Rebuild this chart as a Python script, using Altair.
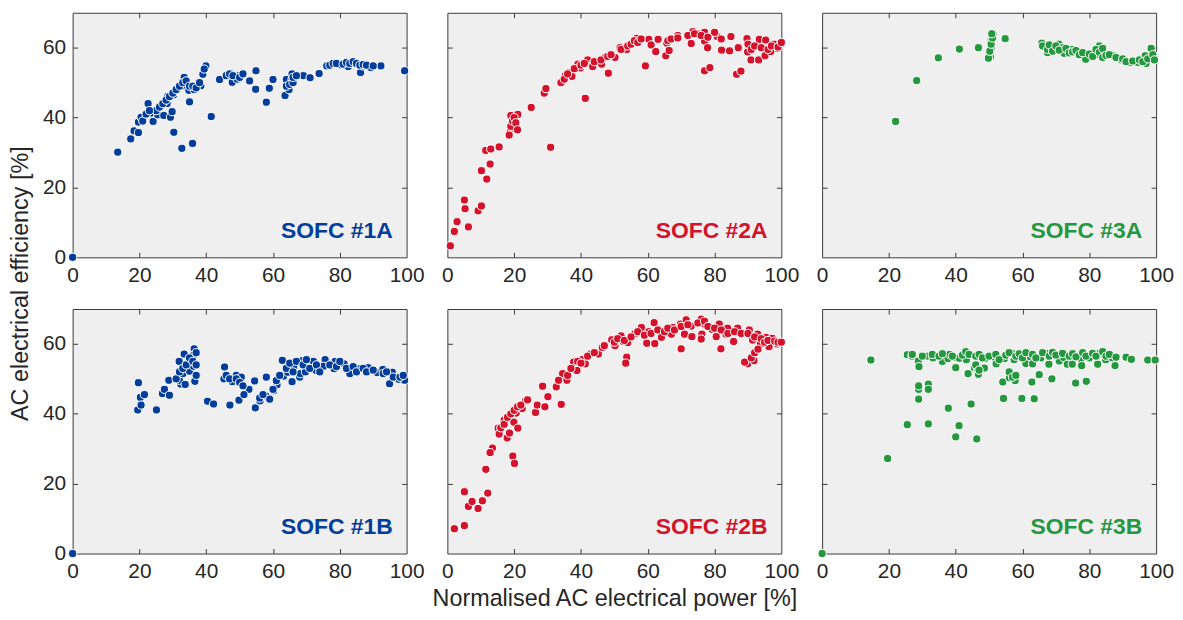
import altair as alt
import pandas as pd

# ---------------- data ----------------
x_1A = [0, 13.5, 17.4, 18.4, 19.7, 19.7, 20.5, 22.6, 24.1, 23.5, 25.5, 27.3, 28.5, 28.3, 26.5, 29.3, 29.8,
        30.3, 30.2, 30.7, 32.7, 33.4, 32.9, 34.8, 35.0, 35.9, 36.4, 38.4, 39.0, 39.9, 39.4, 41.5, 44.0,
        47.3, 47.8, 49.8, 49.3, 53.0, 54.9, 54.8, 58.0, 58.9, 60.0, 63.6, 64.0, 64.8, 65.7, 65.7, 69.1,
        71.1, 73.8, 76.1, 77.7, 80.3, 82.5, 84.0, 86.2, 86.9, 89.3, 92.3, 99.4,
        25, 26, 27, 28, 29, 30, 31, 32, 33, 34, 35, 36, 37, 38, 21, 22, 23,
        46, 47, 48, 50, 51, 64, 65, 66, 66, 67,
        77, 78, 79, 81, 82, 83, 84, 85, 86, 87, 88, 90]
y_1A = [0, 30.1, 33.9, 36.2, 35.7, 38.7, 40.1, 44.0, 38.9, 41.3, 40.8, 40.6, 46.1, 44.0, 43.4, 40.1, 41.7,
        35.8, 46.5, 47.7, 31.2, 51.5, 49.1, 47.8, 44.5, 32.6, 48.0, 49.1, 52.4, 54.8, 53.9, 40.3, 50.9,
        52.6, 50.1, 52.0, 51.0, 50.5, 53.4, 48.1, 44.4, 48.4, 50.9, 46.3, 50.9, 48.0, 50.9, 52.5, 52.0,
        51.4, 52.6, 54.8, 55.3, 55.1, 54.6, 55.5, 52.9, 54.8, 54.3, 54.8, 53.4,
        42, 43, 44, 45, 46, 47, 48, 49, 50, 50.5, 49, 49, 48.5, 50, 39, 41, 42,
        52, 52.5, 52, 51.5, 52.5, 49, 49.5, 50, 51.5, 52,
        55, 55.5, 55.5, 55.3, 55.8, 55.5, 56, 55.5, 55, 55.2, 55, 54.8]

x_2A = [0.9, 2.1, 2.9, 6.3, 5.1, 5.3, 9.2, 10.2, 10.2, 11.8, 12.8, 11.5, 13.0, 15.5, 19.0, 18.8, 19.4,
        21.1, 20.0, 25.1, 29.0, 29.5, 30.9, 34.8, 35.3, 36.5, 37.3, 39.1, 39.8, 41.3, 42.0, 43.8, 43.5,
        46.2, 47.2, 48.2, 50.2, 51.7, 53.7, 55.7, 56.7, 59.3, 60.3, 61.0, 62.4, 63.1, 65.4, 65.7, 66.4,
        68.1, 69.0, 73.0, 73.5, 75.2, 77.0, 77.0, 78.6, 77.0, 77.9, 80.8, 80.0, 82.1, 84.5, 84.9, 86.6,
        87.9, 87.1, 89.7, 89.9, 90.9, 93.4, 93.2, 95.1, 95.3, 97.8, 98.8, 96.8, 99.8,
        18.5, 19, 19.5, 20, 20.5, 21, 34, 35, 36, 38, 40, 41, 44, 46, 48, 49, 52, 54, 55, 56, 57, 58,
        66, 67, 69, 72, 74, 76, 78, 82, 90, 91, 92, 94, 96, 97, 99, 100]
y_2A = [3.3, 7.4, 10.2, 8.7, 16.4, 13.9, 13.3, 14.7, 24.8, 22.4, 26.7, 30.6, 31.0, 31.6, 40.6, 36.0, 38.7,
        40.9, 37.0, 42.9, 47.0, 48.3, 31.5, 50.7, 52.0, 52.9, 51.8, 55.3, 54.2, 45.5, 56.5, 55.8, 54.6,
        55.3, 57.2, 52.7, 57.2, 60.0, 59.5, 61.9, 62.7, 54.8, 62.4, 60.8, 58.9, 62.4, 57.7, 61.3, 59.2,
        62.6, 63.5, 61.2, 64.6, 63.9, 61.9, 53.4, 54.3, 64.4, 60.0, 63.2, 64.4, 59.3, 59.1, 63.2, 52.4,
        53.3, 60.0, 62.6, 58.8, 56.5, 62.4, 56.5, 57.7, 62.2, 61.0, 59.8, 58.9, 61.0,
        35, 37.5, 39, 40, 38.5, 36.5, 50, 51, 52.5, 54, 55, 55.5, 56, 56.5, 57.5, 58, 59.5, 60.5, 61, 62, 61.5, 62.5,
        62, 62.5, 62.8, 63.5, 64, 63.5, 63, 62.5, 61, 59.5, 60.5, 60, 59.5, 60.5, 60.2, 61.5]

x_3A = [22.0, 28.3, 34.8, 41.1, 46.8, 50.4, 50.6, 50.6, 51.2, 50.0, 54.8, 65.8, 67.0, 67.5, 70.9, 71.9,
        72.4, 74.9, 76.7, 78.1, 78.9, 82.6, 83.0, 87.2, 89.6, 92.3, 94.5, 96.7, 97.0, 98.5, 98.9,
        49.8, 50.2, 50.6, 51, 50.8, 66, 67.5, 68, 69, 70, 71, 73, 74, 75, 76, 77, 78, 80, 81, 82, 83,
        84, 84, 85, 86, 88, 90, 91, 93, 95, 96, 97.5, 99, 99.5]
y_3A = [38.9, 50.6, 57.1, 59.6, 60.0, 57.4, 60.0, 62.4, 63.8, 58.6, 62.6, 61.3, 60.0, 58.6, 61.0, 60.0,
        58.4, 59.5, 58.8, 58.3, 56.7, 58.0, 60.5, 57.7, 56.5, 55.8, 55.8, 57.7, 55.5, 59.8, 57.1,
        57, 59, 61, 62.8, 64, 60.5, 59.5, 60.8, 59, 60.5, 59.3, 59.8, 58.5, 58.8, 59.2, 58, 58.6, 58.2,
        57.5, 59.5, 58.7, 59.8, 57.2, 57.8, 58, 57.2, 56.8, 56, 56.2, 56.5, 56, 56.8, 58, 56.5]

x_1B = [0, 19.7, 19.5, 20.3, 20.5, 21.5, 25.1, 26.9, 27.5, 28.8, 29.0, 31.9, 32.4, 32.0, 33.4, 33.7, 33.2,
        33.0, 35.0, 36.2, 36.4, 36.6, 36.2, 40.4, 42.2, 45.5, 45.3, 47.1, 47.8, 49.0, 49.8, 50.5, 52.8,
        51.3, 54.5, 54.7, 56.1, 58.0, 57.9, 59.0, 60.2, 61.2, 62.8, 63.2, 64.4, 65.7, 66.2, 68.0, 68.7,
        68.2, 69.7, 72.9, 72.1, 75.6, 75.1, 78.3, 78.6, 81.3, 83.0, 86.0, 88.5, 91.2, 92.9, 95.7, 94.9,
        97.6, 99.4,
        31, 32, 33, 34, 35, 36, 37, 37, 37, 46, 47, 49, 50, 51, 56, 57, 60, 61, 62, 64, 65, 66, 67, 69,
        70, 71, 73, 74, 77, 79, 80, 82, 84, 85, 87, 88, 90, 93, 94, 96, 98, 99]
y_1B = [0, 48.9, 41.1, 44.7, 42.5, 45.5, 41.1, 45.8, 47.0, 49.6, 45.3, 55.0, 48.5, 49.6, 57.1, 48.4, 52.9,
        51.5, 52.2, 53.6, 58.6, 49.3, 56.8, 43.6, 42.8, 53.4, 50.0, 42.5, 49.2, 51.0, 43.9, 50.5, 47.0,
        45.5, 49.4, 41.7, 43.7, 50.5, 45.1, 44.2, 46.6, 48.3, 55.3, 50.8, 51.9, 49.2, 53.6, 50.5, 55.2,
        51.5, 52.0, 52.4, 55.0, 55.5, 53.6, 52.9, 55.0, 54.3, 51.5, 52.9, 53.2, 51.8, 52.7, 51.9, 48.6,
        49.9, 49.6,
        50, 52, 53, 54, 56, 55, 51, 54, 57.5, 51, 50, 50, 49, 48, 44.5, 45.5, 47, 49.5, 51, 53, 54.5, 52,
        55, 54, 55.5, 53, 54, 52, 54, 53.5, 55, 53, 53.5, 52, 53, 52, 52.5, 51.5, 52, 50.5, 50.5, 51]

x_2B = [2.1, 5.1, 5.1, 6.3, 7.4, 9.2, 10.5, 12.1, 11.5, 13.5, 12.8, 15.2, 15.5, 17.0, 17.9, 18.6, 19.6,
        20.1, 19.9, 21.1, 20.6, 23.4, 22.4, 26.4, 26.9, 28.5, 29.2, 30.1, 32.6, 34.1, 34.5, 33.3, 35.8,
        37.8, 38.8, 40.3, 41.3, 42.8, 45.2, 46.4, 49.2, 50.2, 52.0, 52.7, 53.7, 53.4, 54.0, 56.2, 58.1,
        59.7, 60.3, 61.9, 62.1, 64.1, 67.1, 67.6, 70.0, 69.8, 71.0, 71.5, 73.0, 73.2, 76.0, 76.2, 76.0,
        77.0, 79.2, 80.5, 81.9, 81.4, 83.4, 83.9, 85.7, 86.9, 87.9, 89.9, 90.4, 91.8, 91.4, 92.9, 93.7,
        95.4, 96.3, 97.3, 98.8,
        16, 17, 18, 19, 20, 21, 22, 24, 36, 37, 39, 40, 42, 44, 47, 50, 51, 53, 55, 57, 59, 61, 63, 65,
        66, 68, 70, 72, 75, 77, 78, 80, 82, 84, 86, 88, 90, 92, 94, 95, 96, 98, 99, 100, 89, 91, 92, 93]
y_2B = [7.1, 8.0, 17.7, 13.5, 14.9, 12.9, 15.1, 17.3, 24.1, 30.2, 28.9, 35.9, 34.2, 38.2, 33.1, 34.5, 27.9,
        25.8, 37.6, 35.9, 40.2, 43.7, 41.5, 40.4, 42.5, 47.9, 42.0, 44.9, 47.7, 42.7, 51.5, 49.6, 49.6,
        54.8, 52.4, 55.5, 54.3, 57.1, 57.1, 59.0, 61.2, 59.5, 62.3, 60.7, 56.2, 54.5, 60.4, 63.0, 64.7,
        60.2, 63.5, 66.1, 60.1, 61.9, 62.8, 64.7, 58.6, 65.7, 62.8, 66.9, 65.1, 62.1, 67.1, 62.8, 61.4,
        65.7, 64.2, 62.1, 58.6, 65.7, 62.8, 64.5, 60.7, 64.5, 62.8, 54.3, 64.0, 55.2, 61.1, 62.8, 60.0,
        61.9, 59.2, 61.6, 60.0,
        36, 37, 39, 40, 41, 42, 42.5, 44, 51, 53, 55, 54.5, 56.5, 57.5, 59.5, 60.5, 61.5, 61, 62, 63.5,
        62.5, 63, 64, 63.5, 64.5, 64, 65, 65.5, 66, 66.5, 65, 64.5, 64, 63, 63.5, 63, 63, 62, 61.5, 60.5,
        61, 60.8, 60.5, 60.5, 54.8, 56, 57.5, 58.5]

x_3B = [0, 14.6, 19.6, 25.5, 25.5, 26.9, 28.8, 29.0, 28.9, 28.9, 28.9, 31.8, 31.8, 31.8, 31.7, 33.2, 36.0,
        37.7, 38.2, 37.8, 40.0, 40.0, 40.0, 41.0, 41.1, 43.2, 43.7, 43.2, 44.6, 45.6, 46.5, 46.3, 46.8,
        48.6, 48.9, 51.6, 52.1, 54.1, 54.3, 54.6, 56.1, 57.5, 57.8, 57.1, 59.8, 61.0, 62.2, 63.0, 62.8,
        63.5, 65.0, 65.5, 67.0, 67.9, 68.8, 71.0, 72.4, 73.4, 74.9, 75.9, 77.4, 77.7, 79.1, 80.0, 82.5,
        83.0, 84.9, 87.7, 86.9, 91.0, 92.6, 97.5, 99.7,
        27, 30, 33, 35, 36, 39, 42, 43, 44, 46, 47, 48, 50, 52, 53, 55, 56, 58, 59, 60, 61, 63, 64, 66,
        68, 69, 70, 72, 74, 75, 76, 78, 79, 81, 82, 84, 85, 86, 88, 56, 57, 58, 46, 47]
y_3B = [0, 55.4, 27.2, 36.9, 56.9, 56.5, 55.1, 53.5, 44.2, 47.0, 48.0, 48.5, 47.0, 37.1, 56.5, 56.0, 55.0,
        55.8, 57.0, 41.6, 56.1, 53.2, 33.4, 36.6, 55.9, 55.5, 51.5, 57.5, 42.8, 53.2, 53.0, 32.8, 51.3,
        53.1, 55.9, 56.2, 54.3, 49.1, 44.4, 55.8, 50.3, 55.5, 49.5, 57.2, 44.4, 54.4, 56.4, 54.3, 49.1,
        44.3, 51.2, 56.0, 57.3, 54.2, 50.0, 55.1, 56.1, 54.2, 54.2, 48.8, 55.8, 53.8, 49.3, 56.0, 54.2,
        57.3, 55.5, 53.8, 56.0, 56.2, 55.6, 55.4, 55.4,
        57, 56.5, 57, 56.5, 57.2, 56.5, 56.8, 57.8, 57, 56.5, 57, 56, 56.5, 57, 55.5, 56.8, 57.5, 56.5,
        57.2, 56, 57.5, 57, 56, 57.5, 56.5, 57.6, 56.8, 57.3, 56.5, 57.2, 56.3, 57.5, 56.5, 57.3, 56.5,
        57.8, 56.5, 57, 56.2, 52, 50.5, 51, 54, 52.5]

labels = ["SOFC #1A", "SOFC #2A", "SOFC #3A", "SOFC #1B", "SOFC #2B", "SOFC #3B"]
series_x = [x_1A, x_2A, x_3A, x_1B, x_2B, x_3B]
series_y = [y_1A, y_2A, y_3A, y_1B, y_2B, y_3B]
colors = ["#023d9b", "#d4122c", "#24973f", "#023d9b", "#d4122c", "#24973f"]
x_ticks = [0, 20, 40, 60, 80, 100]
y_ticks = [0, 20, 40, 60]
x_title = "Normalised AC electrical power [%]"
y_title = "AC electrical efficiency [%]"

# ---------------- layout ----------------
W = 336
H = 246
FONT = "Liberation Sans"
TXT = "#262626"
EDGE = "#3a3a3a"

xs = alt.Scale(domain=[0, 100], nice=False, zero=False)
ys = alt.Scale(domain=[0, 70], nice=False, zero=False)


def tick_axis(orient, offset, values):
    return alt.Axis(orient=orient, offset=offset, values=values, labels=False, domain=False,
                    grid=False, ticks=True, tickSize=5, tickColor=EDGE, tickWidth=1, title=None)


def panel(i):
    df = pd.DataFrame({"x": series_x[i], "y": series_y[i]})
    col = i % 3
    row = i // 3
    show_y = col == 0
    xa_kw = dict(orient="bottom", values=x_ticks, ticks=False, domain=False, grid=False,
                 labelFont=FONT, labelFontSize=21, labelColor=TXT, labelPadding=7,
                 labelFlush=False, labelOverlap=False)
    if i == 4:
        xa = alt.Axis(title=x_title, titleFont=FONT, titleFontSize=23.5, titleFontWeight="normal",
                      titleColor=TXT, titleBaseline="alphabetic", titleY=52, **xa_kw)
    else:
        xa = alt.Axis(title=None, **xa_kw)
    ya_kw = dict(orient="left", values=y_ticks, ticks=False, domain=False, grid=False,
                 labels=show_y, labelFont=FONT, labelFontSize=21, labelColor=TXT,
                 labelPadding=7, labelFlush=False, labelOverlap=False)
    if i == 0:
        ya = alt.Axis(title=y_title, titleFont=FONT, titleFontSize=23.5, titleFontWeight="normal",
                      titleColor=TXT, titleX=-52, titleY=H + 26, titleAngle=270,
                      titleAlign="center", titleBaseline="middle", **ya_kw)
    else:
        ya = alt.Axis(title=None, **ya_kw)

    base = alt.Chart(df)
    pts = base.mark_circle(size=68, color=colors[i], opacity=1, stroke="white",
                           strokeWidth=1).encode(
        x=alt.X("x:Q", scale=xs, axis=xa),
        y=alt.Y("y:Q", scale=ys, axis=ya),
    )
    t1 = base.mark_point(opacity=0).encode(
        x=alt.X("x:Q", scale=xs, axis=tick_axis("top", -H, x_ticks[1:-1])),
        y=alt.Y("y:Q", scale=ys, axis=tick_axis("right", -W, [20, 40, 60])),
    )
    t2 = base.mark_point(opacity=0).encode(
        x=alt.X("x:Q", scale=xs, axis=tick_axis("bottom", -H, x_ticks[1:-1])),
        y=alt.Y("y:Q", scale=ys, axis=tick_axis("left", -W, [20, 40, 60])),
    )
    lab = alt.Chart(pd.DataFrame({"t": [labels[i]]})).mark_text(
        align="right", baseline="alphabetic", font=FONT, fontSize=23, fontWeight="bold",
        color=colors[i]).encode(text="t:N", x=alt.value(W - 14),
                                y=alt.value(H - (19 if row == 0 else 20)))
    return alt.layer(pts, t1, t2, lab).resolve_axis(x="independent", y="independent").properties(
        width=W, height=H)


chart = alt.concat(*[panel(i) for i in range(6)], columns=3,
                   spacing={"row": 52, "column": 41}, bounds="flush").properties(
    padding={"left": 0, "top": 2, "right": 0, "bottom": 0},
    background="white",
).configure_view(stroke=EDGE, strokeWidth=1, fill="#efefef")

chart.save("out.html", embed_options={"renderer": "svg", "actions": False})
